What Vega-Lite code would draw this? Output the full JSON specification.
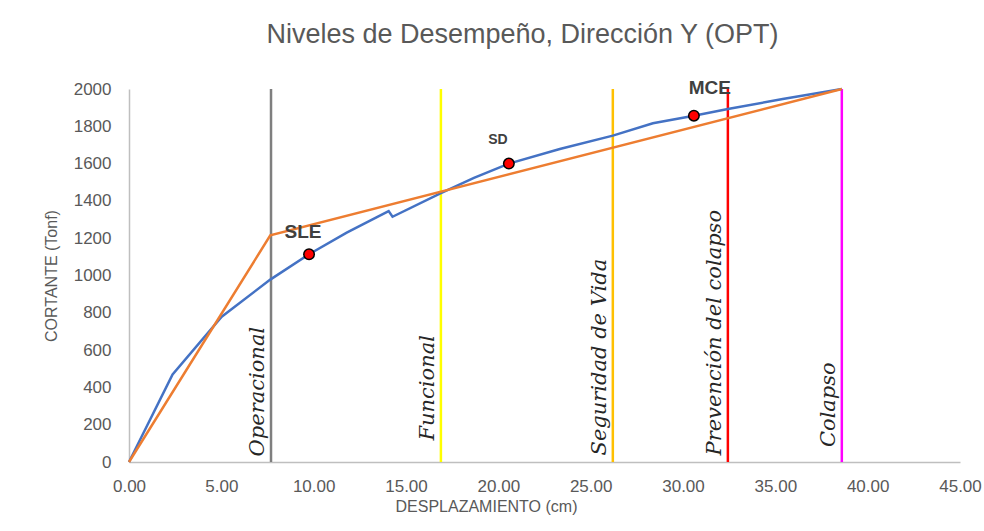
{
  "$schema": "https://vega.github.io/schema/vega-lite/v6.json",
  "autosize": {"type": "none"},
  "width": 831,
  "height": 373,
  "padding": {"left": 129, "top": 89, "right": 24, "bottom": 69},
  "background": "white",
  "config": {
    "view": {"stroke": null},
    "font": "Liberation Sans",
    "axis": {"labelOverlap": false}
  },
  "title": {"text": "Niveles de Desempeño, Dirección Y (OPT)", "fontSize": 27, "fontWeight": "normal", "color": "#595959", "font": "Liberation Sans", "offset": 30, "dx": -22},
  "datasets": {
    "curvas": [
      {"serie": "Capacidad", "d": 0, "v": 0},
      {"serie": "Capacidad", "d": 2.36, "v": 470},
      {"serie": "Capacidad", "d": 5.02, "v": 779},
      {"serie": "Capacidad", "d": 7.65, "v": 978},
      {"serie": "Capacidad", "d": 9.75, "v": 1114},
      {"serie": "Capacidad", "d": 11.79, "v": 1230},
      {"serie": "Capacidad", "d": 14.06, "v": 1345},
      {"serie": "Capacidad", "d": 14.27, "v": 1315},
      {"serie": "Capacidad", "d": 16.89, "v": 1442},
      {"serie": "Capacidad", "d": 18.68, "v": 1523},
      {"serie": "Capacidad", "d": 20.57, "v": 1600},
      {"serie": "Capacidad", "d": 23.33, "v": 1678},
      {"serie": "Capacidad", "d": 26.2, "v": 1750},
      {"serie": "Capacidad", "d": 28.37, "v": 1816},
      {"serie": "Capacidad", "d": 30.59, "v": 1857},
      {"serie": "Capacidad", "d": 32.43, "v": 1893},
      {"serie": "Capacidad", "d": 35.4, "v": 1946},
      {"serie": "Capacidad", "d": 38.6, "v": 2000},
      {"serie": "Bilineal", "d": 0, "v": 0},
      {"serie": "Bilineal", "d": 7.65, "v": 1215},
      {"serie": "Bilineal", "d": 38.6, "v": 2000}
    ],
    "niveles": [
      {"nivel": "Operacional", "d": 7.69, "v": 30},
      {"nivel": "Funcional", "d": 16.89, "v": 115},
      {"nivel": "Seguridad de Vida", "d": 26.2, "v": 35},
      {"nivel": "Prevención del colapso", "d": 32.43, "v": 35},
      {"nivel": "Colapso", "d": 38.6, "v": 80}
    ],
    "puntos": [
      {"punto": "SLE", "d": 9.75, "v": 1114},
      {"punto": "SD", "d": 20.57, "v": 1600},
      {"punto": "MCE", "d": 30.59, "v": 1857}
    ]
  },
  "encoding": {
    "x": {"field": "d", "type": "quantitative", "scale": {"domain": [0, 45]},
      "axis": {"values": [0, 5, 10, 15, 20, 25, 30, 35, 40, 45], "format": ".2f", "title": "DESPLAZAMIENTO (cm)", "labelPadding": 16, "titlePadding": 4, "titleX": 357, "labelFlush": false, "labelOverlap": false,
        "grid": false, "ticks": false, "labelColor": "#595959", "titleColor": "#595959", "labelFontSize": 17, "titleFontSize": 16, "titleFontWeight": "normal", "domainColor": "#bfbfbf", "domainWidth": 1.5, "labelFont": "Liberation Sans", "titleFont": "Liberation Sans"}},
    "y": {"field": "v", "type": "quantitative", "scale": {"domain": [0, 2000]},
      "axis": {"values": [0, 200, 400, 600, 800, 1000, 1200, 1400, 1600, 1800, 2000], "tickCount": 11, "format": "d", "title": "CORTANTE (Tonf)", "labelPadding": 18, "titlePadding": 14, "labelOverlap": false,
        "grid": false, "ticks": false, "labelColor": "#595959", "titleColor": "#595959", "labelFontSize": 17, "titleFontSize": 16, "titleFontWeight": "normal", "domainColor": "#bfbfbf", "domainWidth": 1.5, "labelFont": "Liberation Sans", "titleFont": "Liberation Sans"}}
  },
  "layer": [
    {
      "data": {"name": "niveles"},
      "mark": {"type": "rule", "strokeWidth": 2.5},
      "encoding": {
        "y": {"datum": 0, "type": "quantitative"},
        "y2": {"datum": 2000},
        "color": {"field": "nivel", "type": "nominal", "legend": null,
          "scale": {"domain": ["Operacional", "Funcional", "Seguridad de Vida", "Prevención del colapso", "Colapso", "Capacidad", "Bilineal"],
                    "range": ["#7f7f7f", "#ffff00", "#ffc000", "#ff0000", "#ff00ff", "#4472c4", "#ed7d31"]}}
      }
    },
    {
      "data": {"name": "curvas"},
      "mark": {"type": "line", "strokeWidth": 2.5},
      "encoding": {
        "color": {"field": "serie", "type": "nominal", "legend": null},
        "order": {"field": "d", "type": "quantitative"}
      }
    },
    {
      "data": {"name": "puntos"},
      "mark": {"type": "point", "filled": true, "fill": "#ff0000", "stroke": "#000000", "strokeWidth": 1.5, "size": 110, "opacity": 1, "shape": "circle"}
    },
    {
      "data": {"name": "puntos"},
      "transform": [{"filter": "datum.punto === 'SLE'"}],
      "mark": {"type": "text", "fontSize": 19, "fontWeight": "bold", "color": "#404040", "dy": -22, "dx": -6, "font": "Liberation Sans"},
      "encoding": {"text": {"field": "punto"}}
    },
    {
      "data": {"name": "puntos"},
      "transform": [{"filter": "datum.punto === 'SD'"}],
      "mark": {"type": "text", "fontSize": 14, "fontWeight": "bold", "color": "#404040", "dy": -24, "dx": -11, "font": "Liberation Sans"},
      "encoding": {"text": {"field": "punto"}}
    },
    {
      "data": {"name": "puntos"},
      "transform": [{"filter": "datum.punto === 'MCE'"}],
      "mark": {"type": "text", "fontSize": 19, "fontWeight": "bold", "color": "#404040", "dy": -28, "dx": 16, "font": "Liberation Sans"},
      "encoding": {"text": {"field": "punto"}}
    },
    {
      "data": {"name": "niveles"},
      "mark": {"type": "text", "angle": 270, "align": "left", "baseline": "bottom", "dy": -3, "fontSize": 21, "fontStyle": "italic", "font": "DejaVu Serif", "color": "#262626"},
      "encoding": {"text": {"field": "nivel"}}
    }
  ]
}
